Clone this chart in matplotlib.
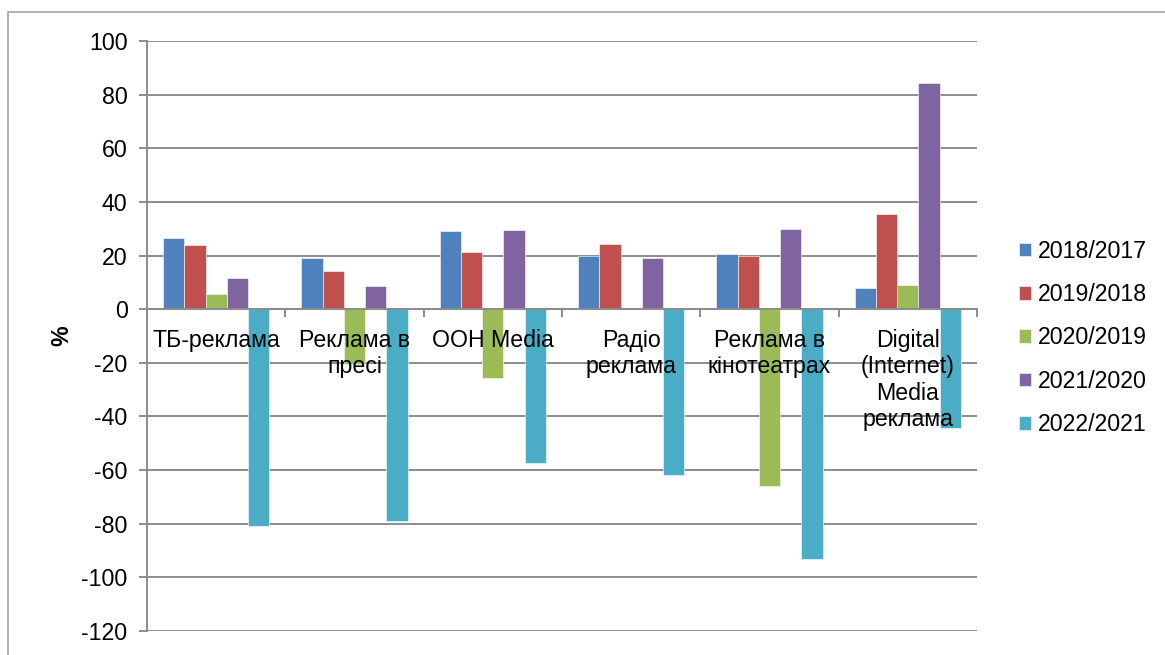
import numpy as np
import matplotlib
matplotlib.use('Agg')
import matplotlib.pyplot as plt
from matplotlib.patches import Rectangle

plt.rcParams['font.family'] = ['Liberation Sans', 'DejaVu Sans']
plt.rcParams['axes.unicode_minus'] = False

# categories (x axis) and yearly changes, %
categories = ['ТБ-реклама', 'Реклама в\nпресі', 'OOH Media', 'Радіо\nреклама',
              'Реклама в\nкінотеатрах', 'Digital\n(Internet)\nMedia\nреклама']
series_names = ['2018/2017', '2019/2018', '2020/2019', '2021/2020', '2022/2021']
v_2018 = [26.6, 19.0, 29.3, 20.0, 20.7, 8.0]
v_2019 = [23.9, 14.2, 21.2, 24.2, 19.9, 35.6]
v_2020 = [5.5, -20.4, -25.6, 0.0, -66.1, 9.2]
v_2021 = [11.7, 8.7, 29.4, 19.0, 29.9, 84.2]
v_2022 = [-81.0, -78.8, -57.3, -61.7, -93.0, -44.4]
colors = ['#4F81BD', '#C0504D', '#9BBB59', '#8064A2', '#4BACC6']

all_values = [v_2018, v_2019, v_2020, v_2021, v_2022]
FS = 16.7

fig = plt.figure(figsize=(11.65, 6.55), dpi=100)
ax = fig.add_axes([0.1262, 0.0366, 0.8386 - 0.1262, 0.9374 - 0.0366])

# outer chart border (cut off at right and bottom like the original)
fig.patches.append(Rectangle((8 / 1165, -0.2), 1.2, 1.2 - 12 / 655,
                             transform=fig.transFigure, fill=False,
                             edgecolor='#a6a6a6', linewidth=1.2))

x = np.arange(len(categories))
bar_w = 1 / 6.5
for i, (vals, name, col) in enumerate(zip(all_values, series_names, colors)):
    offset = (i - 2) * bar_w
    ax.bar(x + offset, vals, width=bar_w, color=col, label=name,
           edgecolor='white', linewidth=0.4, zorder=3)

ax.set_xlim(-0.5, len(categories) - 0.5)
ax.set_ylim(-120, 100)
ax.set_yticks(np.arange(-120, 101, 20))
ax.yaxis.grid(True, color='#8c8c8c', linewidth=1.4, zorder=0)
ax.set_axisbelow(True)

for s in ['top', 'right']:
    ax.spines[s].set_visible(False)
ax.spines['left'].set_color('#8c8c8c')
ax.spines['left'].set_linewidth(1.4)
ax.spines['bottom'].set_position(('data', 0))
ax.spines['bottom'].set_color('#8c8c8c')
ax.spines['bottom'].set_linewidth(1.4)
ax.spines['bottom'].set_zorder(4)

# category boundaries as ticks
ax.set_xticks(np.arange(-0.5, len(categories), 1.0))
ax.set_xticklabels([])
ax.tick_params(axis='x', length=6, width=1.4, color='#8c8c8c')
ax.tick_params(axis='y', length=6, width=1.4, color='#8c8c8c', labelsize=FS, pad=8)

# category names sit on top of the bars, just below zero
for xi, name in zip(x, categories):
    ax.annotate(name, xy=(xi, 0), xytext=(0, -14), textcoords='offset points',
                ha='center', va='top', fontsize=FS, linespacing=1.2, zorder=10)

ax.set_ylabel('%', fontsize=FS, fontweight='bold', labelpad=6)

handles, labels = ax.get_legend_handles_labels()
fig.legend(handles, labels, loc='center left', bbox_to_anchor=(1019 / 1165, 0.484),
           frameon=False, fontsize=FS, handlelength=0.52, handleheight=0.52,
           handletextpad=0.3, labelspacing=0.88, borderpad=0, borderaxespad=0)

fig.savefig('out.png', dpi=100)
